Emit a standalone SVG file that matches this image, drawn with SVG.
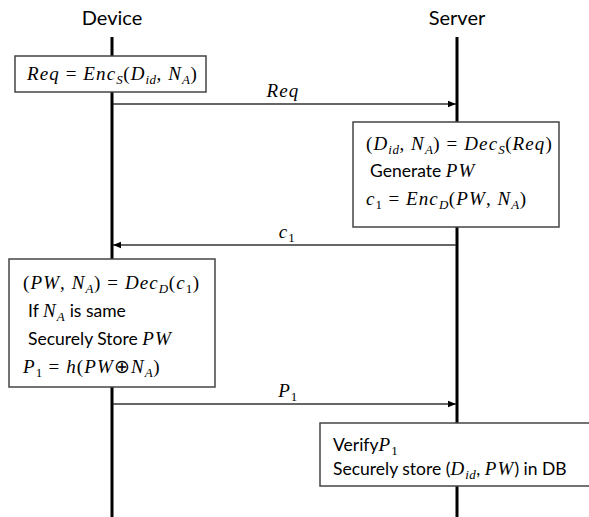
<svg xmlns="http://www.w3.org/2000/svg" width="589" height="517" viewBox="0 0 589 517">
<defs>
<style>
.life{stroke:#000;stroke-width:3;fill:none}
.box{fill:#fff;stroke:#444;stroke-width:1.5}
.msg{stroke:#333;stroke-width:1.3;fill:none;marker-end:url(#ah)}
.h{font-family:Lato,"Open Sans",sans-serif;font-size:20px;fill:#000;text-anchor:middle}
.m{font-family:"Liberation Serif",serif;font-size:19px;letter-spacing:1.1px;fill:#000}
.t{font-family:Lato,"Open Sans",sans-serif;font-size:17.5px;fill:#000}
.i{font-style:italic}
.s{font-size:13px;baseline-shift:-4px;letter-spacing:0.5px}
.lbl{text-anchor:middle}
</style>
<marker id="ah" viewBox="0 0 10 10" refX="10" refY="5" markerWidth="8" markerHeight="8" markerUnits="userSpaceOnUse" orient="auto">
<path d="M0,1 L10,5 L0,9 z" fill="#000"/>
</marker>
</defs>
<rect width="589" height="517" fill="#fff"/>
<g id="lifelines">
<line class="life" x1="112" y1="37" x2="112" y2="517"/>
<line class="life" x1="457" y1="37" x2="457" y2="517"/>
</g>
<g id="device-head"><text class="h" x="112" y="25">Device</text></g>
<g id="server-head"><text class="h" x="457" y="25">Server</text></g>
<g id="connectors">
<line class="msg" x1="113" y1="104" x2="456" y2="104"/>
<text class="m lbl" x="283" y="97"><tspan class="i">Req</tspan></text>
<line class="msg" x1="456" y1="245" x2="113" y2="245"/>
<text class="m lbl" x="287" y="238"><tspan class="i">c</tspan><tspan class="s">1</tspan></text>
<line class="msg" x1="113" y1="404" x2="456" y2="404"/>
<text class="m lbl" x="288" y="397"><tspan class="i">P</tspan><tspan class="s">1</tspan></text>
</g>
<g id="box-req">
<rect class="box" x="15" y="56" width="191" height="36"/>
<text class="m" x="27" y="80"><tspan class="i">Req</tspan> = <tspan class="i">Enc</tspan><tspan class="s i">S</tspan>(<tspan class="i">D</tspan><tspan class="s i">id</tspan>, <tspan class="i">N</tspan><tspan class="s i">A</tspan>)</text>
</g>
<g id="box-server">
<rect class="box" x="353" y="122" width="206" height="105"/>
<text class="m" x="366" y="150">(<tspan class="i">D</tspan><tspan class="s i">id</tspan>, <tspan class="i">N</tspan><tspan class="s i">A</tspan>) = <tspan class="i">Dec</tspan><tspan class="s i">S</tspan>(<tspan class="i">Req</tspan>)</text>
<text class="t" x="370" y="177">Generate <tspan class="m i">PW</tspan></text>
<text class="m" x="366" y="205"><tspan class="i">c</tspan><tspan class="s">1</tspan> = <tspan class="i">Enc</tspan><tspan class="s i">D</tspan>(<tspan class="i">PW</tspan>, <tspan class="i">N</tspan><tspan class="s i">A</tspan>)</text>
</g>
<g id="box-device">
<rect class="box" x="9" y="259" width="206" height="128"/>
<text class="m" x="23" y="289">(<tspan class="i">PW</tspan>, <tspan class="i">N</tspan><tspan class="s i">A</tspan>) = <tspan class="i">Dec</tspan><tspan class="s i">D</tspan>(<tspan class="i">c</tspan><tspan class="s">1</tspan>)</text>
<text class="t" x="28" y="317">If <tspan class="m i">N</tspan><tspan class="m s i">A</tspan> is same</text>
<text class="t" x="28" y="345">Securely Store <tspan class="m i">PW</tspan></text>
<text class="m" x="23" y="373"><tspan class="i">P</tspan><tspan class="s">1</tspan> = <tspan class="i">h</tspan>(<tspan class="i">PW</tspan>⊕<tspan class="i">N</tspan><tspan class="s i">A</tspan>)</text>
</g>
<g id="box-verify">
<rect class="box" x="320" y="423" width="275" height="63"/>
<text class="t" x="333" y="451">Verify<tspan class="m i">P</tspan><tspan class="m s">1</tspan></text>
<text class="t" x="333" y="475">Securely store (<tspan class="m i">D</tspan><tspan class="m s i">id</tspan>, <tspan class="m i">PW</tspan>) in DB</text>
</g>
</svg>
